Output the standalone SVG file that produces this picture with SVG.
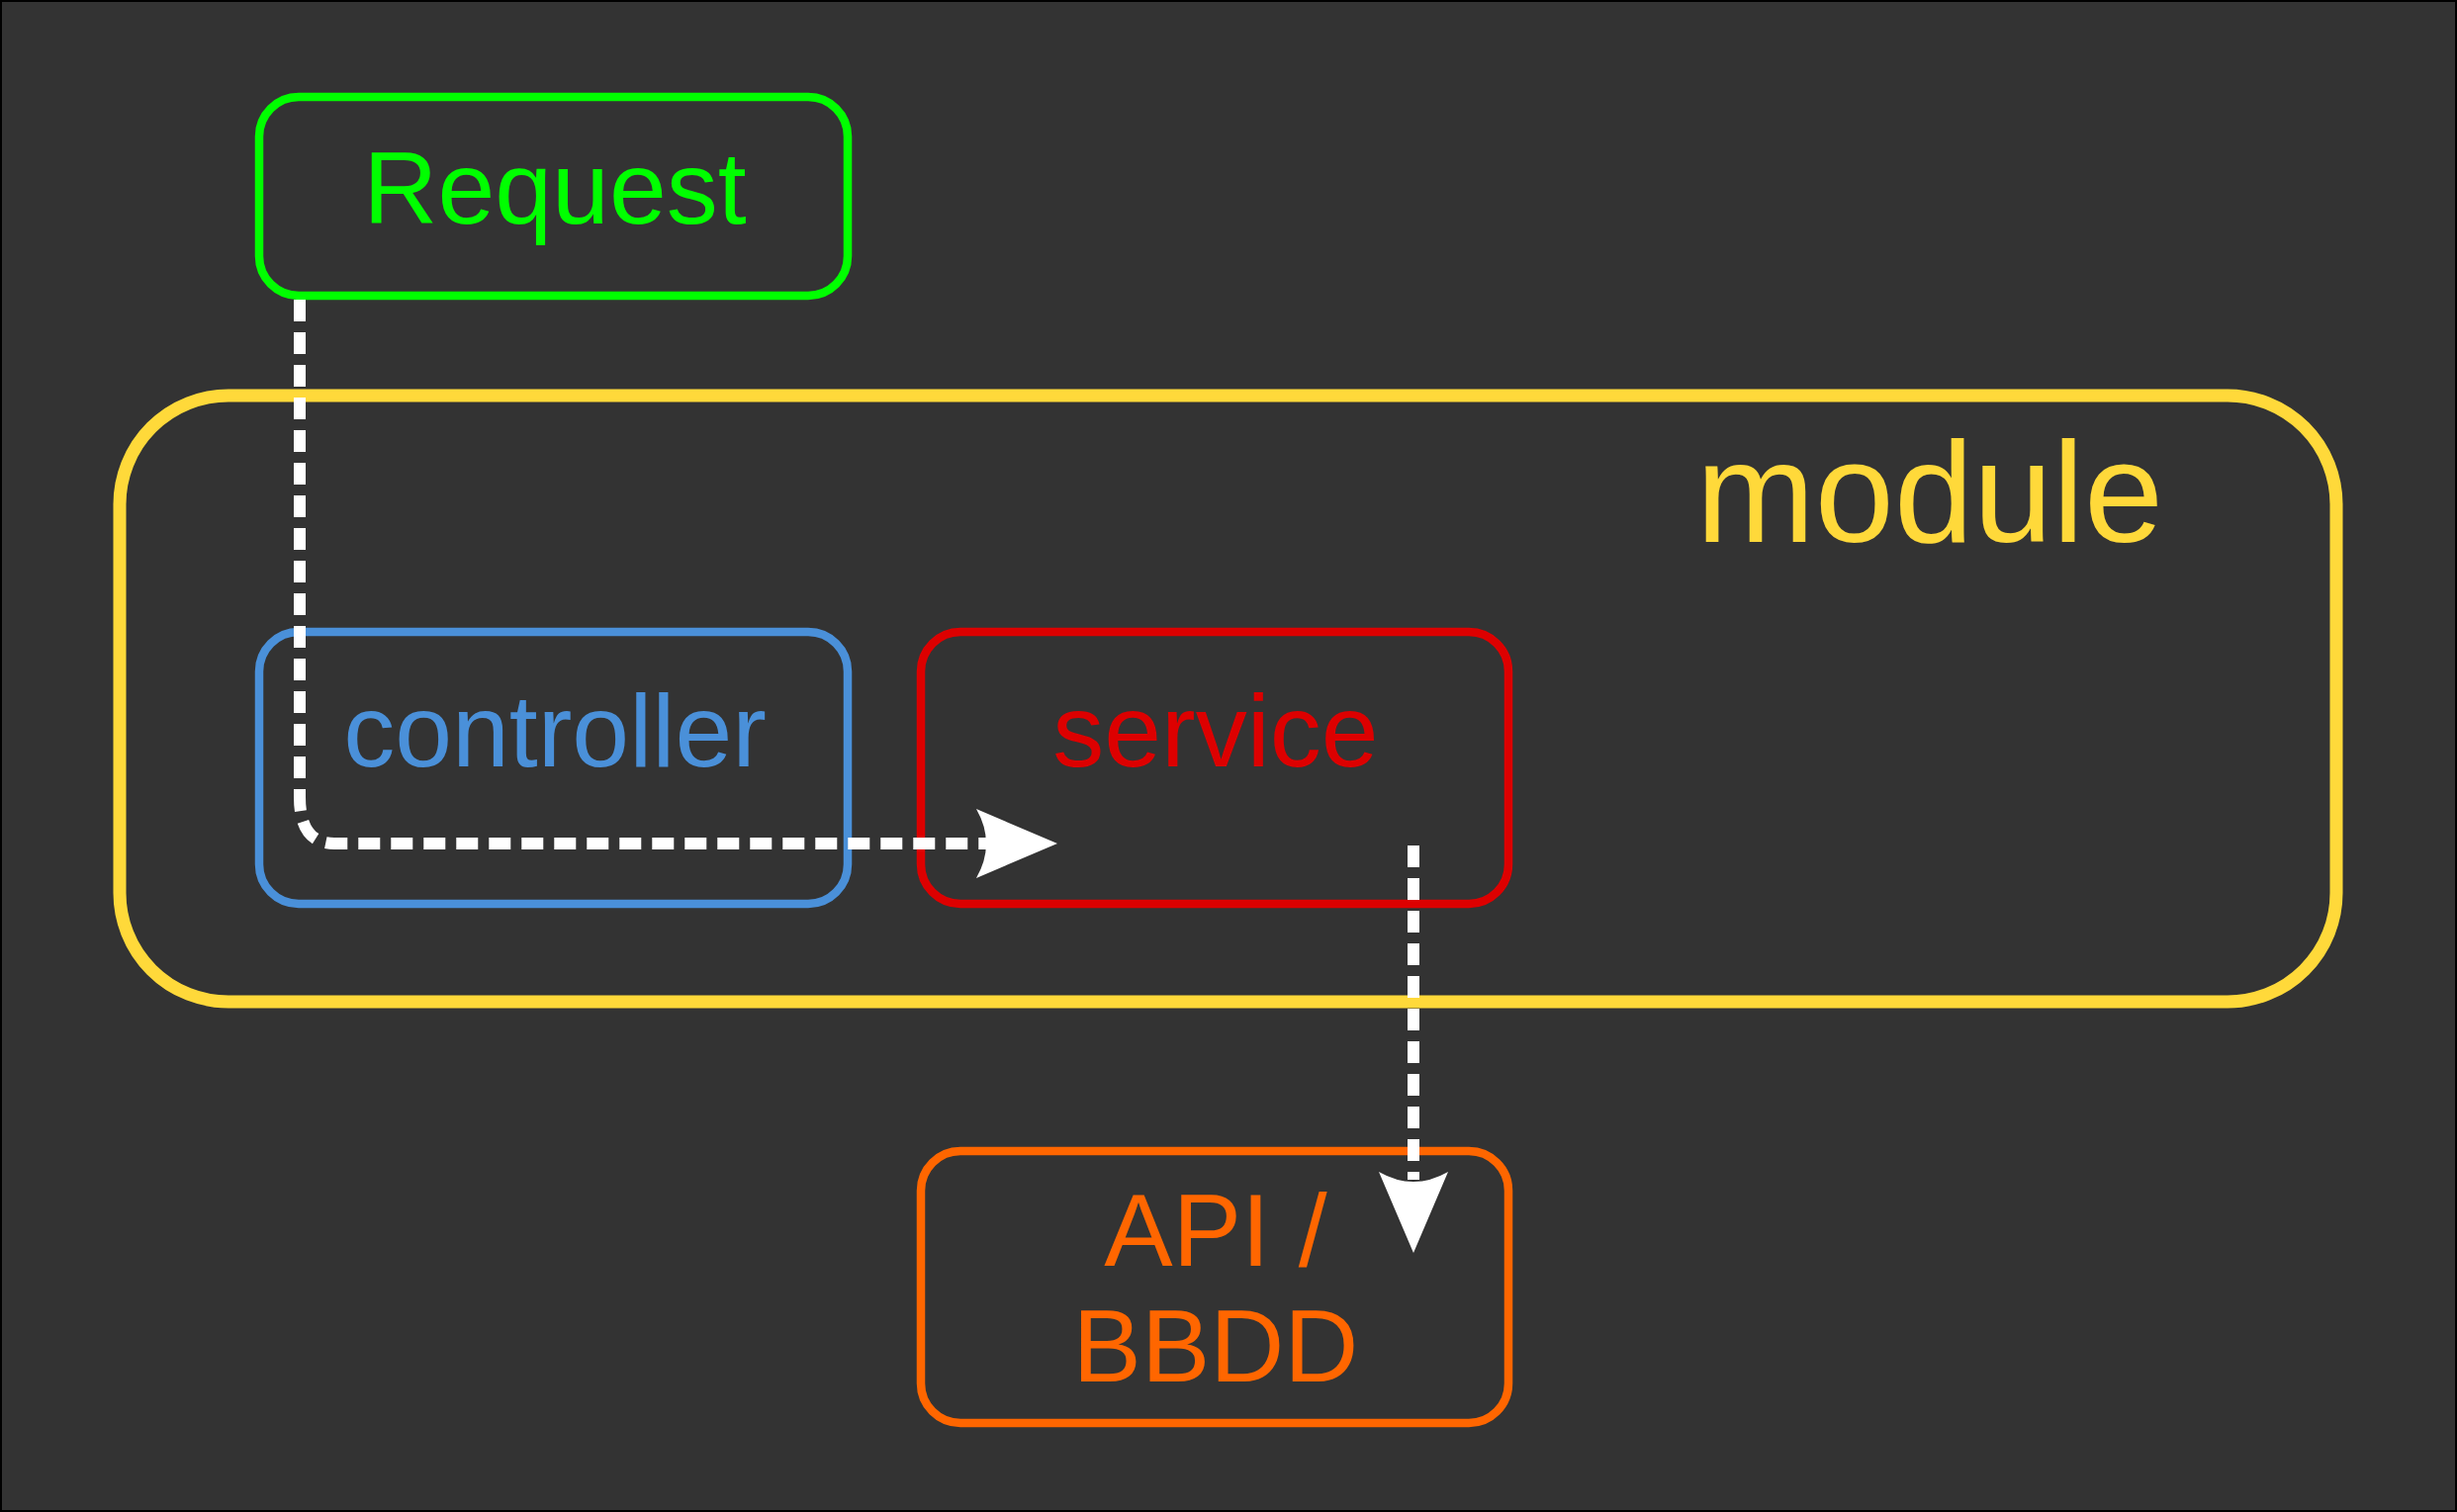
<svg xmlns="http://www.w3.org/2000/svg" width="2484" height="1529" viewBox="0 0 2484 1529">
<style>
.box{fill:none;stroke-width:8.5;}
.lbl{font-family:"Liberation Sans",Arial,sans-serif;text-anchor:middle;}
.conn{fill:none;stroke:#FFFFFF;stroke-width:12;stroke-dasharray:22 11;}
.head{fill:#FFFFFF;stroke:none;}
</style>
<rect x="1" y="1" width="2482" height="1527" fill="#333333" stroke="#000000" stroke-width="2"/>
<g id="module">
<rect x="121" y="400" width="2241" height="613" rx="110" ry="110" fill="none" stroke="#FFD93A" stroke-width="13"/>
<text class="lbl" x="1951" y="548" font-size="144" fill="#FFD93A">module</text>
</g>
<g id="request">
<rect class="box" x="262" y="98" width="595" height="201" rx="40" ry="40" stroke="#00FF00"/>
<text class="lbl" x="561" y="226" font-size="104" fill="#00FF00">Request</text>
</g>
<g id="controller">
<rect class="box" x="262" y="639" width="595" height="275" rx="40" ry="40" stroke="#4A90D9"/>
<text class="lbl" x="561" y="775" font-size="104" fill="#4A90D9">controller</text>
</g>
<g id="service">
<rect class="box" x="931" y="639" width="594" height="275" rx="40" ry="40" stroke="#DD0000"/>
<text class="lbl" x="1229" y="775" font-size="104" fill="#DD0000">service</text>
</g>
<g id="api">
<rect class="box" x="931" y="1164" width="594" height="275" rx="40" ry="40" stroke="#FF6600"/>
<text class="lbl" x="1229" y="1280" font-size="104" fill="#FF6600">API /</text>
<text class="lbl" x="1229" y="1397" font-size="104" fill="#FF6600">BBDD</text>
</g>
<g id="connectors">
<path class="conn" d="M303 303 L303 806 Q303 853 338 853 L998 853"/>
<path class="head" d="M1069 853 L987 818 Q1007 853 987 888 Z"/>
<path class="conn" d="M1429 855 L1429 1193"/>
<path class="head" d="M1429 1267 L1394 1185 Q1429 1205 1464 1185 Z"/>
</g>
</svg>
